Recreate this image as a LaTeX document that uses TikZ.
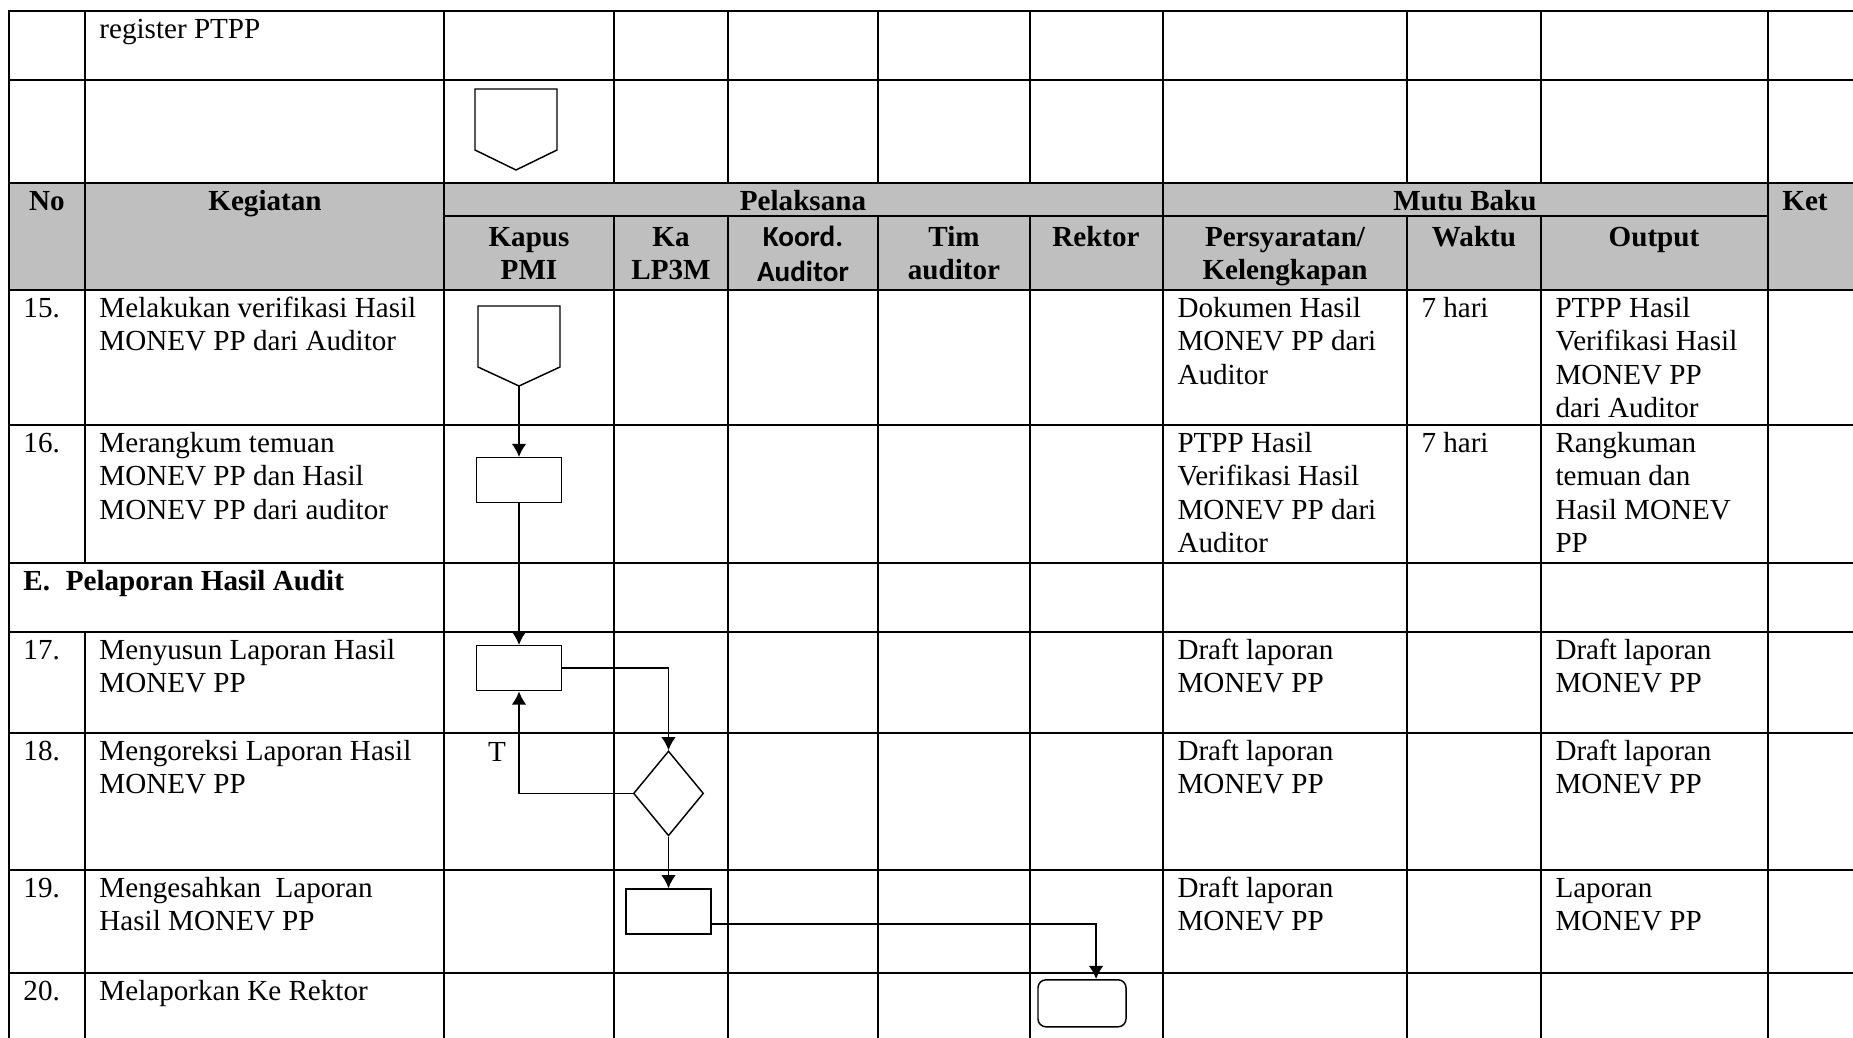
\documentclass[tikz,border=0pt]{standalone}
\usepackage{fontspec}
\setmainfont{Liberation Serif}
\newfontfamily\koordfont{Carlito}
\usetikzlibrary{arrows.meta,shapes.geometric}

\newcommand{\cellL}[1]{\begin{tabular}[t]{@{}l@{}}#1\end{tabular}}
\newcommand{\cellC}[1]{\begin{tabular}[t]{@{}c@{}}#1\end{tabular}}

\tikzset{
  grid/.style={line width=0.82pt, line cap=rect},
  txt/.style={anchor=base west, inner sep=0pt, font=\fontsize{12}{13.8}\selectfont},
  head/.style={anchor=base, inner sep=0pt, font=\fontsize{12}{13.8}\selectfont\bfseries},
  proc/.style={draw, rectangle, line width=0.6pt, minimum width=35.05pt, minimum height=18.56pt, inner sep=0pt},
  decis/.style={draw, diamond, line width=0.6pt, minimum width=28.9pt, minimum height=35pt, inner sep=0pt},
  term/.style={draw, rectangle, rounded corners=3.3pt, line width=0.6pt, minimum width=36.3pt, minimum height=19.4pt, inner sep=0pt},
  flow/.style={line width=0.7pt},
}

\begin{document}
\begin{tikzpicture}[x=0.4124pt, y=-0.4124pt, >={Latex[length=5.4pt,width=6pt]}]
  \useasboundingbox (0,0) rectangle (1853,1037);
  % table
  \fill[black!25] (9,183) rectangle (1853,290);
  \foreach \y in {11,80,183,290,425,563,632,733,870,973}
    \draw[grid] (9,\y) -- (1853,\y);
  \draw[grid] (444,216) -- (1768,216);
  \foreach \x in {9,444,1163,1768}
    \draw[grid] (\x,11) -- (\x,1037);
  \foreach \x in {614,728,878,1030,1407,1541}
    \draw[grid] (\x,11) -- (\x,183) (\x,216) -- (\x,1037);
  \draw[grid] (85,11) -- (85,563) (85,632) -- (85,1037);

  % header
  \node[head] (hno) at (47,210) {No};
  \node[head] (hkeg) at (265,210) {Kegiatan};
  \node[head] (hpel) at (803,210) {Pelaksana};
  \node[head] (hmutu) at (1465,210) {Mutu Baku};
  \node[head] (hket) at (1805,210) {Ket};
  \node[head] (hkapus) at (529,246) {\cellC{Kapus\\PMI}};
  \node[head] (hka) at (671,246) {\cellC{Ka\\LP3M}};
  \node[head, font=\fontsize{12}{14.6}\koordfont\bfseries] (hkoord) at (803,246) {\cellC{Koord.\\Auditor}};
  \node[head] (htim) at (954,246) {\cellC{Tim\\auditor}};
  \node[head] (hrek) at (1096,246) {Rektor};
  \node[head] (hsyarat) at (1285,246) {\cellC{Persyaratan/\\Kelengkapan}};
  \node[head] (hwaktu) at (1474,246) {Waktu};
  \node[head] (hout) at (1654,246) {Output};

  % rows
  \node[txt] (k0) at (99,38.5) {register PTPP};

  \node[txt] (n15) at (23,317.5) {15.};
  \node[txt] (k15) at (99,317.5) {\cellL{Melakukan verifikasi Hasil\\MONEV PP dari Auditor}};
  \node[txt] (s15) at (1177,317.5) {\cellL{Dokumen Hasil\\MONEV PP dari\\Auditor}};
  \node[txt] (w15) at (1421,317.5) {7 hari};
  \node[txt] (o15) at (1555,317.5) {\cellL{PTPP Hasil\\Verifikasi Hasil\\MONEV PP\\dari Auditor}};

  \node[txt] (n16) at (23,452.5) {16.};
  \node[txt] (k16) at (99,452.5) {\cellL{Merangkum temuan\\MONEV PP dan Hasil\\MONEV PP dari auditor}};
  \node[txt] (s16) at (1177,452.5) {\cellL{PTPP Hasil\\Verifikasi Hasil\\MONEV PP dari\\Auditor}};
  \node[txt] (w16) at (1421,452.5) {7 hari};
  \node[txt] (o16) at (1555,452.5) {\cellL{Rangkuman\\temuan dan\\Hasil MONEV\\PP}};

  \node[txt, font=\fontsize{12}{13.8}\selectfont\bfseries] (secE) at (23,590.5) {E.\hspace{6.5pt}Pelaporan Hasil Audit};

  \node[txt] (n17) at (23,659.5) {17.};
  \node[txt] (k17) at (99,659.5) {\cellL{Menyusun Laporan Hasil\\MONEV PP}};
  \node[txt] (s17) at (1177,659.5) {\cellL{Draft laporan\\MONEV PP}};
  \node[txt] (o17) at (1555,659.5) {\cellL{Draft laporan\\MONEV PP}};

  \node[txt] (n18) at (23,760.5) {18.};
  \node[txt] (k18) at (99,760.5) {\cellL{Mengoreksi Laporan Hasil\\MONEV PP}};
  \node[txt] (s18) at (1177,760.5) {\cellL{Draft laporan\\MONEV PP}};
  \node[txt] (o18) at (1555,760.5) {\cellL{Draft laporan\\MONEV PP}};

  \node[txt] (n19) at (23,897.5) {19.};
  \node[txt] (k19) at (99,897.5) {\cellL{Mengesahkan\ \ Laporan\\Hasil MONEV PP}};
  \node[txt] (s19) at (1177,897.5) {\cellL{Draft laporan\\MONEV PP}};
  \node[txt] (o19) at (1555,897.5) {\cellL{Laporan\\MONEV PP}};

  \node[txt] (n20) at (23,1000.5) {20.};
  \node[txt] (k20) at (99,1000.5) {Melaporkan Ke Rektor};

  % flow
  \draw[line width=0.6pt] (475,89) -- (557,89) -- (557,150) -- (516,170) -- (475,150) -- cycle;
  \draw[line width=0.6pt] (478,306) -- (560,306) -- (560,367) -- (519,386) -- (478,367) -- cycle;
  \coordinate (c15) at (519,386);
  \node[proc] (p16) at (519,480.2) {};
  \node[proc] (p17) at (519,668.2) {};
  \node[decis] (d18) at (668.5,793.4) {};
  \node[proc] (p19) at (668.5,911.5) {};
  \node[term] (t20) at (1082,1003.3) {};
  \node[txt, anchor=base] (lblT) at (497,761.5) {T};

  \draw[flow, ->] (c15) -- (p16.north);
  \draw[flow, ->] (p16.south) -- (p17.north);
  \draw[flow, ->] (p17.east) -| (d18.north);
  \draw[flow, ->] (d18.west) -| (p17.south);
  \draw[flow, ->] (d18.south) -- (p19.north);
  \draw[flow, ->] ([yshift=-5.2pt]p19.east) -| ([xshift=5.8pt]t20.north);
\end{tikzpicture}
\end{document}
